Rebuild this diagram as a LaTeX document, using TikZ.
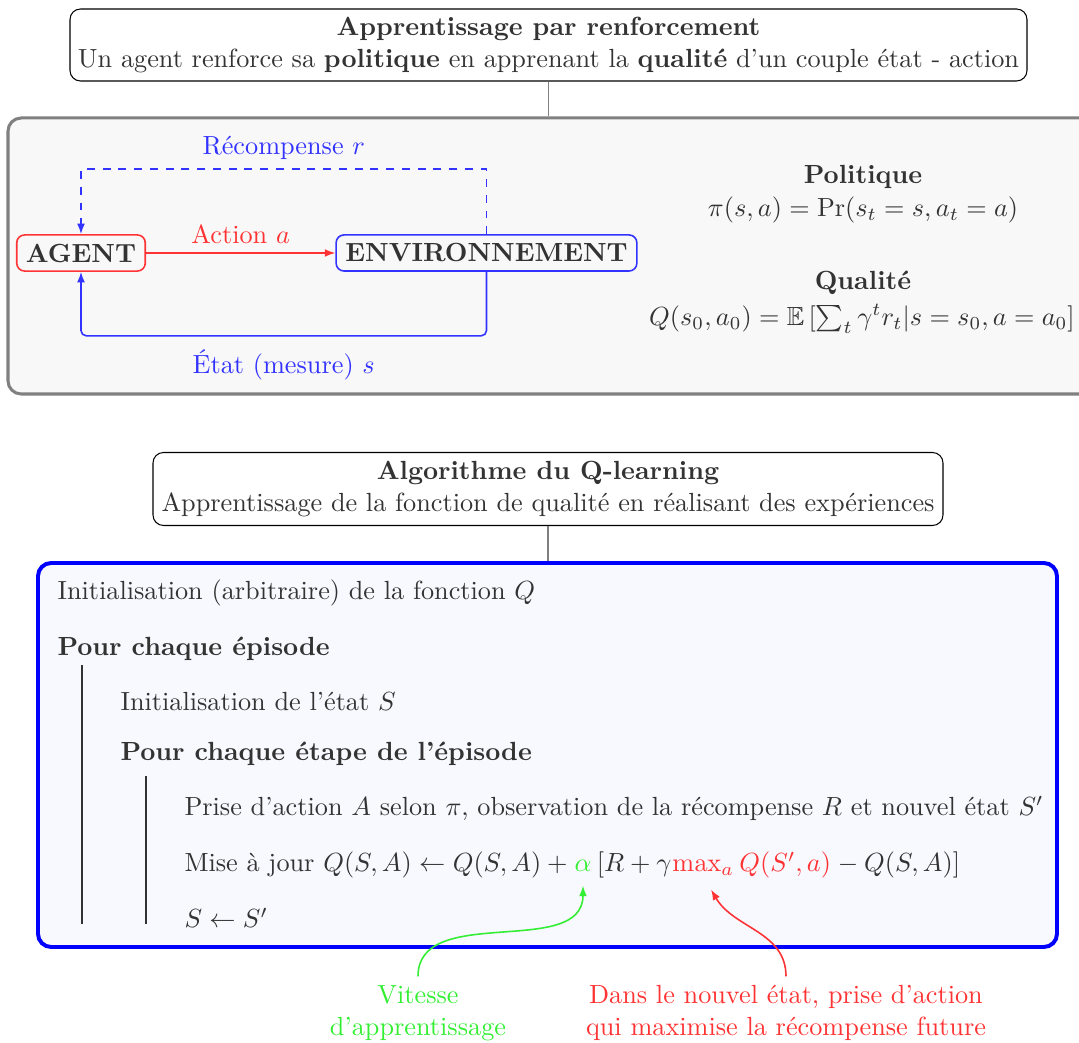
\documentclass[tikz,border=0pt]{standalone}
\usepackage{amsmath,amssymb}
\usetikzlibrary{arrows.meta}
\definecolor{txt}{HTML}{333333}
\definecolor{cred}{HTML}{FF3333}
\definecolor{cblue}{HTML}{3333FF}
\definecolor{cgreen}{HTML}{33EE33}
\definecolor{panelgray}{HTML}{F8F8F8}
\definecolor{panelblue}{HTML}{F8F8FF}
\def\pxu{0.381pt}
\begin{document}
\begin{tikzpicture}[x=\pxu, y=-\pxu,
  every node/.style={text=txt},
  titlebox/.style={draw=black, fill=white, rounded corners=4pt, align=center, inner sep=2pt, line width=0.4pt},
  panelA/.style={draw=gray, fill=panelgray, line width=1.15pt, rounded corners=5pt, inner sep=0pt},
  panelB/.style={draw=blue, fill=panelblue, line width=1.5pt, rounded corners=5pt, inner sep=0pt},
  agentbox/.style={draw=cred, fill=panelgray, line width=0.6pt, rounded corners=3pt, font=\bfseries, inner xsep=3.5pt, minimum height=35*\pxu},
  envbox/.style={draw=cblue, fill=panelgray, line width=0.6pt, rounded corners=3pt, font=\bfseries, inner xsep=3.5pt, minimum height=35*\pxu},
  link/.style={draw=gray, line width=0.4pt},
  tip/.style={-{Latex[length=4pt,width=3pt]}},
  alg/.style={anchor=base west, inner sep=0pt},
  vline/.style={draw=txt, line width=0.75pt}
]
\useasboundingbox (0,0) rectangle (1079,1043);

% ---------- top part ----------
\node[titlebox, minimum width=957*\pxu, minimum height=72*\pxu] (t1) at (548.5,45)
  {\textbf{Apprentissage par renforcement}\\
   Un agent renforce sa \textbf{politique} en apprenant la \textbf{qualité} d'un couple état - action};
\node[panelA, minimum width=1092*\pxu, minimum height=276*\pxu] (pA) at (554,256) {};
\draw[link] (t1.south) -- (t1.south |- pA.north);

\node[agentbox] (agent) at (81,253) {AGENT};
\node[envbox] (env) at (486.5,253) {ENVIRONNEMENT};

\draw[cred, line width=0.6pt, tip] (agent.east) -- node[above, text=cred] {Action $a$} (env.west);
\draw[cblue, line width=0.6pt, dashed, tip] (env.north) -- ++(0,-65)
  -| node[pos=0.25, above=0pt, text=cblue] {Récompense $r$} (agent.north);
\draw[cblue, line width=0.6pt, rounded corners=2pt, tip] (env.south) -- ++(0,64)
  -| node[pos=0.25, below=1.5pt, text=cblue] {État (mesure) $s$} (agent.south);

\node[font=\bfseries] (polT) at (863,177) {Politique};
\node (polF) at (863,210) {$\pi(s,a)=\Pr(s_t=s,a_t=a)$};
\node[font=\bfseries] (qualT) at (863,283) {Qualité};
\node (qualF) at (862,319) {$Q(s_0,a_0)=\mathbb{E}\left[\sum_t\gamma^t r_t|s=s_0,a=a_0\right]$};

% ---------- bottom part ----------
\node[titlebox, minimum width=790*\pxu, minimum height=73*\pxu] (t2) at (548,489)
  {\textbf{Algorithme du Q-learning}\\
   Apprentissage de la fonction de qualité en réalisant des expériences};
\node[panelB, minimum width=1019*\pxu, minimum height=384*\pxu] (pB) at (547.5,755) {};
\draw[link] (t2.south) -- (t2.south |- pB.north);

\node[alg] (l1) at (57,600) {Initialisation (arbitraire) de la fonction $Q$};
\node[alg, font=\bfseries] (l2) at (57,656) {Pour chaque épisode};
\node[alg] (l3) at (120,711) {Initialisation de l'état $S$};
\node[alg, font=\bfseries] (l4) at (120,761) {Pour chaque étape de l'épisode};
\node[alg] (l5) at (184,816) {Prise d'action $A$ selon $\pi$, observation de la récompense $R$ et nouvel état $S'$};
\node[alg] (l6) at (184,872) {Mise à jour $Q(S,A)\leftarrow Q(S,A)+{}$};
\node[alg, text=cgreen] (alpha) at (l6.base east) {$\alpha$};
\node[alg] (l6b) at (alpha.base east) {$\,[R+\gamma$};
\node[alg, text=cred] (maxop) at (l6b.base east) {$\max_a$};
\node[alg, text=cred] (qsa) at (maxop.base east) {$\,Q(S',a)$};
\node[alg] (l6c) at (qsa.base east) {${}-Q(S,A)]$};
\node[alg] (l7) at (184,928) {$S\leftarrow S'$};

\draw[vline] (82,665) -- (82,924);
\draw[vline] (146,776) -- (146,924);

\node[align=center, text=cgreen] (vit) at (418,1013) {Vitesse\\d'apprentissage};
\node[align=center, text=cred] (dans) at (786,1013) {Dans le nouvel état, prise d'action\\qui maximise la récompense future};

\draw[cgreen, line width=0.6pt, tip] (vit.north) to[out=90, in=-90] ([yshift=-5pt]alpha.south);
\draw[cred, line width=0.6pt, tip] (dans.north) to[out=90, in=-60] ([xshift=3pt,yshift=-5pt]maxop.south);
\end{tikzpicture}
\end{document}
